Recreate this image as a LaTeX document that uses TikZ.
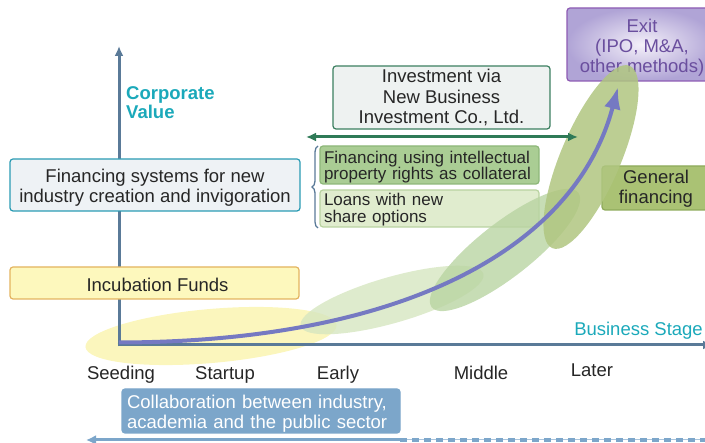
\documentclass[tikz,border=0pt]{standalone}
\usepackage{fontspec}
\setmainfont{Liberation Sans}
\usetikzlibrary{arrows.meta,decorations.pathreplacing}
\definecolor{txtcol}{HTML}{262626}
\definecolor{tealcol}{HTML}{1BA9BA}
\definecolor{axiscol}{HTML}{5A7A98}
\definecolor{finb}{HTML}{2A9BB3}
\definecolor{finf}{HTML}{EEF2F5}
\definecolor{incf}{HTML}{FDF8BD}
\definecolor{incb}{HTML}{E3B35F}
\definecolor{invf}{HTML}{EEF2F1}
\definecolor{invb}{HTML}{3B7F60}
\definecolor{dgreen}{HTML}{2F7A57}
\definecolor{ipf}{HTML}{AACD94}
\definecolor{ipb}{HTML}{8DB779}
\definecolor{lnf}{HTML}{E0ECCE}
\definecolor{lnb}{HTML}{B9D3A0}
\definecolor{genf}{HTML}{AAC274}
\definecolor{genb}{HTML}{8EAA5B}
\definecolor{exitin}{HTML}{F4F0F9}
\definecolor{exitout}{HTML}{B0A4D6}
\definecolor{exitb}{HTML}{8D5BB3}
\definecolor{exitt}{HTML}{6A4E9E}
\definecolor{yell}{HTML}{FBF6BD}
\definecolor{gone}{HTML}{D6E6C0}
\definecolor{gtwo}{HTML}{B9D4A2}
\definecolor{gthree}{HTML}{B0C680}
\definecolor{curvecol}{HTML}{7579C2}
\definecolor{collf}{HTML}{7CA6CA}
\definecolor{colll}{HTML}{A9C4DC}
\newcommand\mainfs{\fontsize{18.5}{20}\selectfont}
\newcommand\smallfs{\fontsize{17}{16.7}\selectfont}
\begin{document}
\begin{tikzpicture}[x=1pt,y=-1pt,
  box/.style={draw, rounded corners=3pt, line width=1.2pt, inner sep=0pt},
  ctext/.style={align=center, font=\mainfs, text=txtcol, inner sep=0pt},
  ltext/.style={align=left, font=\smallfs, text=txtcol, inner sep=0pt},
  stage/.style={anchor=base, font=\mainfs, text=txtcol, inner sep=0pt},
  axisline/.style={axiscol, line width=3pt},
  gell/.style={opacity=0.8}
]
\useasboundingbox (0,0) rectangle (705,443);

% background ellipse
\fill[yell, rotate around={5:(211,336)}] (211,336) ellipse [x radius=126pt, y radius=27pt];

% axes
\coordinate (O) at (119,345);
\coordinate (ytop) at (119,46);
\coordinate (xend) at (713,345);
\draw[axisline, -{Latex[length=10pt,width=9pt]}] (119,346.5) -- (ytop);
\draw[axisline, -{Latex[length=10pt,width=9pt]}] (117.5,345) -- (xend);

% boxes
\node[box, draw=finb, fill=finf, minimum width=290pt, minimum height=52pt] (fin) at (155,185) {};
\node[ctext, yshift=-3pt] (fint) at (fin.center) {Financing systems for new\\industry creation and invigoration};
\node[box, draw=incb, fill=incf, minimum width=289pt, minimum height=32pt] (incub) at (154.5,283) {};
\node[ctext, yshift=-2pt, xshift=3pt] (incubt) at (incub.center) {Incubation Funds};
\node[box, draw=invb, fill=invf, minimum width=217pt, minimum height=63pt] (invest) at (441.5,97.5) {};
\node[ctext, font=\fontsize{18.5}{20.5}\selectfont] (investt) at (invest.center) {Investment via\\New Business\\Investment Co., Ltd.};
\node[box, draw=ipb, fill=ipf, minimum width=219pt, minimum height=38pt] (ip) at (429.5,165) {};
\node[ltext, text width=211pt, yshift=-2pt] (ipt) at (ip.center) {Financing using intellectual\\property rights as collateral};
\node[box, draw=lnb, fill=lnf, minimum width=219pt, minimum height=37pt] (loans) at (429.5,208.5) {};
\node[ltext, text width=211pt, yshift=-1pt] (loanst) at (loans.center) {Loans with new\\share options};
\node[box, draw=genb, fill=genf, minimum width=108pt, minimum height=44pt] (general) at (656,188) {};
\node[ctext, yshift=-1pt] (generalt) at (general.center) {General\\financing};
\node[box, draw=exitb, shade, shading=radial, inner color=exitin, outer color=exitout, minimum width=150pt, minimum height=73pt] (exit) at (642,44.5) {};
\node[ctext, text=exitt, yshift=-3.5pt] (exitt) at (exit.center) {Exit\\(IPO, M\&A,\\other methods)};

% growth ellipses
\fill[gone, gell, rotate around={16:(392,300)}] (392,300) ellipse [x radius=95pt, y radius=23pt];
\fill[gtwo, gell, rotate around={38:(505,250)}] (505,250) ellipse [x radius=93pt, y radius=27pt];
\fill[gthree, opacity=0.85, rotate around={67:(591,157)}] (591,157) ellipse [x radius=99pt, y radius=30pt];

% corporate value curve
\coordinate (ctip) at (618,87);
\draw[curvecol, line width=4pt, -{Latex[length=22pt,width=17pt]}] (119,342.5) .. controls (400,342) and (575,250) .. (ctip);

% double arrow and brace
\coordinate (da1) at (306,137);
\coordinate (da2) at (578,137);
\draw[dgreen, line width=3pt, {Latex[length=10pt,width=9pt]}-{Latex[length=10pt,width=9pt]}] (da1) -- (da2);
\coordinate (br1) at (318,228);
\coordinate (br2) at (318,146);
\draw[axiscol, line width=1.3pt, decorate, decoration={brace, amplitude=6pt}] (br1) -- (br2);

% axis labels
\node[anchor=base west, font=\bfseries\mainfs, text=tealcol, inner sep=0pt] (corp1) at (126,100) {Corporate};
\node[anchor=base west, font=\bfseries\mainfs, text=tealcol, inner sep=0pt] (corp2) at (126,119) {Value};
\node[anchor=base east, font=\mainfs, text=tealcol, inner sep=0pt] (bstage) at (703,336) {Business Stage};

% stages
\node[stage] (seeding) at (121,380) {Seeding};
\node[stage] (startup) at (225,380) {Startup};
\node[stage] (early) at (338,380) {Early};
\node[stage] (middle) at (481,380) {Middle};
\node[stage] (later) at (592,377) {Later};

% collaboration
\node[box, draw=collf, fill=collf, minimum width=278pt, minimum height=44pt] (collab) at (261,411) {};
\node[ltext, font=\mainfs, text=white, text width=268pt, yshift=-2.5pt] (collabt) at (collab.center) {Collaboration between industry,\\academia and the public sector};
\coordinate (ba0) at (86,440);
\coordinate (ba1) at (400,440);
\coordinate (ba2) at (712,440);
\draw[collf, line width=3pt, -{Latex[length=10pt,width=10pt]}] (ba1) -- (ba0);
\draw[colll, line width=1pt] (ba1) -- (ba2);
\draw[collf, line width=3.5pt, dash pattern=on 7pt off 5pt] (ba1) -- (ba2);
\end{tikzpicture}
\end{document}
